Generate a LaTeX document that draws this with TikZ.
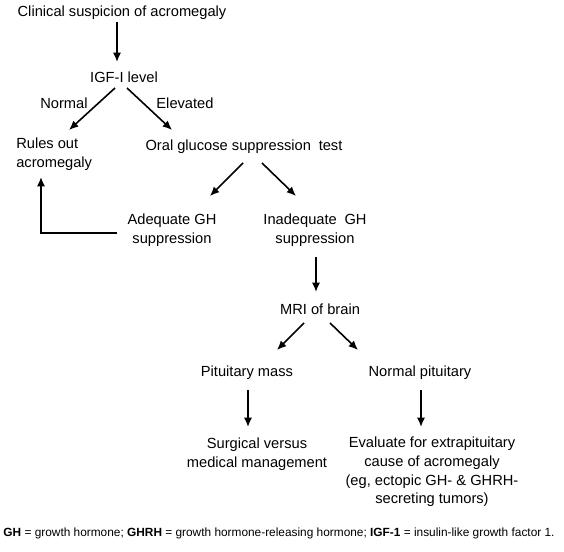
\documentclass[tikz,border=0pt]{standalone}
\usepackage{fontspec}
\setmainfont{Liberation Sans}
\usetikzlibrary{arrows.meta}
\begin{document}
\begin{tikzpicture}[x=0.75pt,y=-0.75pt,
  txt/.style={inner sep=0pt,font=\fontsize{11}{14}\selectfont,align=center},
  arr/.style={line width=1.2pt,-{Latex[length=7pt,width=6pt]}}]
\useasboundingbox (0,0) rectangle (564,552);
\node[txt] (clin) at (122,13) {Clinical suspicion of acromegaly};
\node[txt] (igf) at (124,77) {IGF-I level};
\node[txt] (normal) at (64,103) {Normal};
\node[txt] (elev) at (185,103) {Elevated};
\node[txt,align=left,anchor=west] (rules) at (16,154) {Rules out\\acromegaly};
\node[txt] (ogtt) at (244,147) {Oral glucose suppression\hspace{0.25em} test};
\node[txt] (adeq) at (172,230) {Adequate GH\\suppression};
\node[txt] (inadeq) at (315,230) {Inadequate\hspace{0.25em} GH\\suppression};
\node[txt] (mri) at (320,309) {MRI of brain};
\node[txt] (pmass) at (247,373) {Pituitary mass};
\node[txt] (npit) at (420,373) {Normal pituitary};
\node[txt] (surg) at (257,454) {Surgical versus\\medical management};
\node[txt] (eval) at (432,472) {Evaluate for extrapituitary\\cause of acromegaly\\(eg, ectopic GH- \& GHRH-\\secreting tumors)};
\node[inner sep=0pt,font=\fontsize{8.9}{10}\selectfont] (foot) at (279,533) {\textbf{GH} = growth hormone; \textbf{GHRH} = growth hormone-releasing hormone; \textbf{IGF-1} = insulin-like growth factor 1.};
\coordinate (corner) at (41,233);
\draw[arr] ([shift={(-5,9)}]clin.center) -- ([shift={(-7,-15)}]igf.center);
\draw[arr] ([shift={(-9,11)}]igf.center) -- ([shift={(53,-24)}]rules.west);
\draw[arr] ([shift={(3,11)}]igf.center) -- ([shift={(-72,-17)}]ogtt.center);
\draw[arr] ([shift={(-1,16)}]ogtt.center) -- ([shift={(38,-34)}]adeq.center);
\draw[arr] ([shift={(18,16)}]ogtt.center) -- ([shift={(-19,-34)}]inadeq.center);
\draw[arr] ([shift={(-55,3)}]adeq.center) -- (corner) -- ([shift={(25,23)}]rules.west);
\draw[arr] ([shift={(1,27)}]inadeq.center) -- ([shift={(-4,-17)}]mri.center);
\draw[arr] ([shift={(-16,14)}]mri.center) -- ([shift={(30,-23)}]pmass.center);
\draw[arr] ([shift={(10,14)}]mri.center) -- ([shift={(-62,-23)}]npit.center);
\draw[arr] ([shift={(1,17)}]pmass.center) -- ([shift={(-9,-27)}]surg.center);
\draw[arr] ([shift={(1,17)}]npit.center) -- ([shift={(-11,-45)}]eval.center);
\end{tikzpicture}
\end{document}
